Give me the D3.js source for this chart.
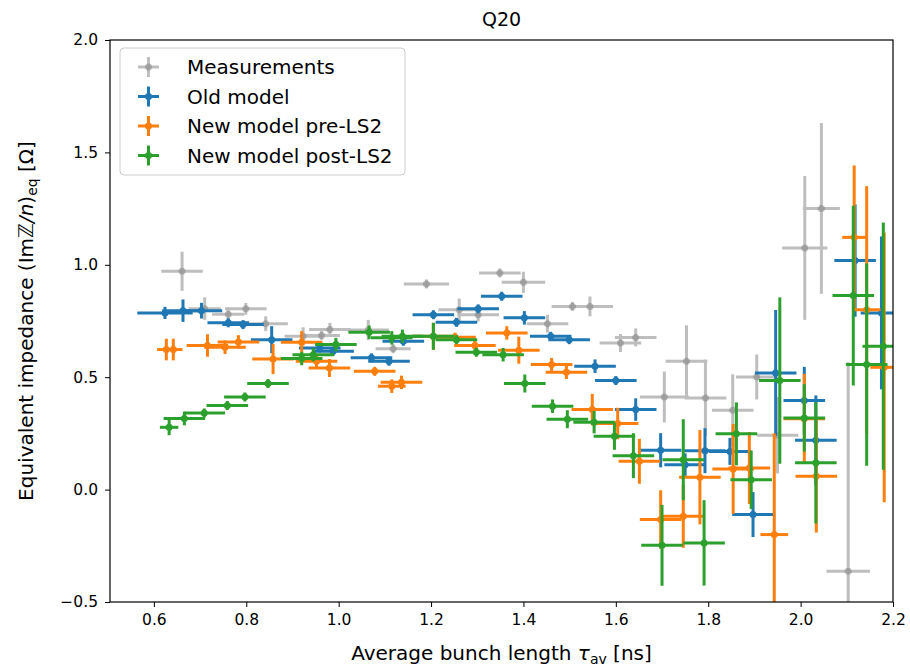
<!DOCTYPE html>
<html>
<head>
<meta charset="utf-8">
<script src="https://cdn.jsdelivr.net/npm/d3@7"></script>
<style>
  body { margin: 0; background: #fff; }
  text { font-family: "DejaVu Sans", sans-serif; }
</style>
</head>
<body>
<div id="chart-area"></div>
<script>
// values
const measX    = [0.661, 0.71, 0.761, 0.799, 0.842, 0.923, 0.963, 0.981, 1.064, 1.118, 1.19, 1.261, 1.302, 1.349, 1.40, 1.452, 1.506, 1.544, 1.61, 1.643, 1.705, 1.753, 1.794, 1.853, 1.905, 1.95, 2.009, 2.045, 2.103];
const measY    = [0.971, 0.805, 0.78, 0.804, 0.738, 0.682, 0.686, 0.712, 0.71, 0.627, 0.915, 0.80, 0.778, 0.964, 0.922, 0.738, 0.815, 0.815, 0.652, 0.677, 0.412, 0.571, 0.408, 0.353, 0.501, 0.242, 1.075, 1.251, -0.363];
const measXerr = [0.045, 0.035, 0.035, 0.045, 0.048, 0.04, 0.04, 0.045, 0.045, 0.038, 0.049, 0.045, 0.045, 0.045, 0.047, 0.045, 0.045, 0.05, 0.045, 0.045, 0.053, 0.045, 0.045, 0.045, 0.045, 0.045, 0.049, 0.04, 0.047];
const measYerr = [0.087, 0.05, 0.03, 0.026, 0.033, 0.04, 0.02, 0.03, 0.045, 0.02, 0.02, 0.05, 0.03, 0.02, 0.047, 0.04, 0.02, 0.044, 0.04, 0.04, 0.113, 0.16, 0.17, 0.16, 0.1, 0.17, 0.32, 0.38, 0.93];

const oldX    = [0.624, 0.663, 0.703, 0.761, 0.793, 0.855, 0.959, 0.988, 1.071, 1.109, 1.14, 1.205, 1.255, 1.302, 1.353, 1.402, 1.459, 1.499, 1.555, 1.60, 1.643, 1.697, 1.75, 1.793, 1.847, 1.897, 1.946, 2.008, 2.033, 2.118, 2.175];
const oldY    = [0.786, 0.796, 0.796, 0.742, 0.734, 0.667, 0.63, 0.615, 0.586, 0.571, 0.66, 0.778, 0.744, 0.804, 0.86, 0.764, 0.682, 0.667, 0.549, 0.485, 0.356, 0.175, 0.111, 0.173, 0.17, -0.111, 0.519, 0.396, 0.219, 1.019, 0.786];
const oldXerr = [0.06, 0.045, 0.045, 0.045, 0.045, 0.045, 0.045, 0.045, 0.045, 0.045, 0.045, 0.045, 0.045, 0.045, 0.045, 0.045, 0.045, 0.045, 0.045, 0.045, 0.045, 0.045, 0.045, 0.045, 0.045, 0.045, 0.045, 0.045, 0.045, 0.045, 0.045];
const oldYerr = [0.027, 0.05, 0.035, 0.02, 0.02, 0.06, 0.02, 0.02, 0.02, 0.02, 0.02, 0.02, 0.02, 0.02, 0.02, 0.03, 0.02, 0.02, 0.03, 0.02, 0.05, 0.076, 0.05, 0.1, 0.06, 0.1, 0.28, 0.15, 0.2, 0.25, 0.34];

const preX    = [0.627, 0.642, 0.716, 0.754, 0.783, 0.858, 0.92, 0.952, 0.98, 1.078, 1.115, 1.136, 1.205, 1.252, 1.295, 1.364, 1.39, 1.461, 1.493, 1.549, 1.604, 1.651, 1.697, 1.746, 1.782, 1.854, 1.889, 1.943, 2.008, 2.034, 2.116, 2.143, 2.181];
const preY    = [0.623, 0.623, 0.641, 0.633, 0.657, 0.581, 0.655, 0.571, 0.541, 0.526, 0.46, 0.477, 0.682, 0.678, 0.641, 0.697, 0.62, 0.556, 0.522, 0.356, 0.294, 0.126, -0.133, -0.119, 0.055, 0.092, 0.096, -0.2, 0.315, 0.059, 1.122, 0.80, 0.544];
const preXerr = [0.02, 0.02, 0.045, 0.045, 0.045, 0.045, 0.045, 0.045, 0.045, 0.045, 0.03, 0.045, 0.045, 0.045, 0.045, 0.045, 0.045, 0.045, 0.045, 0.045, 0.045, 0.045, 0.045, 0.045, 0.045, 0.045, 0.045, 0.03, 0.045, 0.045, 0.026, 0.03, 0.03];
const preYerr = [0.048, 0.048, 0.05, 0.03, 0.03, 0.067, 0.05, 0.03, 0.04, 0.02, 0.03, 0.03, 0.06, 0.02, 0.02, 0.03, 0.06, 0.03, 0.03, 0.07, 0.07, 0.1, 0.13, 0.14, 0.21, 0.2, 0.16, 0.45, 0.2, 0.25, 0.32, 0.55, 0.6];

const postX    = [0.633, 0.666, 0.709, 0.759, 0.797, 0.847, 0.92, 0.945, 0.994, 1.066, 1.115, 1.138, 1.205, 1.255, 1.298, 1.356, 1.403, 1.463, 1.495, 1.553, 1.597, 1.638, 1.70, 1.746, 1.791, 1.861, 1.893, 1.955, 2.008, 2.033, 2.114, 2.143, 2.179];
const postY    = [0.277, 0.316, 0.341, 0.374, 0.412, 0.472, 0.583, 0.60, 0.645, 0.70, 0.675, 0.682, 0.682, 0.667, 0.611, 0.60, 0.472, 0.371, 0.313, 0.30, 0.237, 0.151, -0.248, 0.133, -0.237, 0.248, 0.044, 0.485, 0.319, 0.119, 0.863, 0.556, 0.638];
const postXerr = [0.02, 0.045, 0.045, 0.045, 0.045, 0.045, 0.045, 0.045, 0.045, 0.045, 0.045, 0.045, 0.045, 0.045, 0.045, 0.045, 0.045, 0.045, 0.045, 0.045, 0.045, 0.045, 0.045, 0.045, 0.045, 0.045, 0.045, 0.045, 0.045, 0.045, 0.045, 0.045, 0.045];
const postYerr = [0.035, 0.03, 0.02, 0.02, 0.02, 0.02, 0.03, 0.03, 0.03, 0.03, 0.03, 0.03, 0.06, 0.02, 0.02, 0.03, 0.04, 0.03, 0.04, 0.05, 0.06, 0.1, 0.18, 0.18, 0.19, 0.14, 0.13, 0.37, 0.15, 0.27, 0.4, 0.45, 0.55];

const seriesNames  = ["Measurements", "Old model", "New model pre-LS2", "New model post-LS2"];
const seriesColors = ["#7f7f7f", "#1f77b4", "#ff7f0e", "#2ca02c"];
const xTicks = [0.6, 0.8, 1.0, 1.2, 1.4, 1.6, 1.8, 2.0, 2.2];
const yTicks = [-0.5, 0.0, 0.5, 1.0, 1.5, 2.0];

const series = [
    { x: measX, y: measY, xe: measXerr, ye: measYerr, alpha: 0.5 },
    { x: oldX, y: oldY, xe: oldXerr, ye: oldYerr, alpha: 1 },
    { x: preX, y: preY, xe: preXerr, ye: preYerr, alpha: 1 },
    { x: postX, y: postY, xe: postXerr, ye: postYerr, alpha: 1 }
];

const width = 910, height = 666;
const margin = { left: 110, right: 17, top: 40, bottom: 64 };

const svg = d3.select("#chart-area").append("svg")
    .attr("width", width)
    .attr("height", height);

const x = d3.scaleLinear()
    .domain([0.505, 2.2])
    .range([margin.left, width - margin.right]);

const y = d3.scaleLinear()
    .domain([-0.5, 2.0])
    .range([height - margin.bottom, margin.top]);

svg.append("defs").append("clipPath").attr("id", "clip")
    .append("rect")
    .attr("x", margin.left).attr("y", margin.top)
    .attr("width", width - margin.left - margin.right)
    .attr("height", height - margin.top - margin.bottom);
const plot = svg.append("g").attr("clip-path", "url(#clip)");

series.forEach((s, k) => {
    const col = seriesColors[k];
    const pts = s.x.map((v, i) => ({ x: v, y: s.y[i], xe: s.xe[i], ye: s.ye[i] }));
    const g = plot.append("g");

    // error bars first, markers on top
    const bars = g.append("g").attr("opacity", s.alpha);
    bars.selectAll(".xe").data(pts).enter().append("line")
        .attr("x1", (d) => x(d.x - d.xe))
        .attr("x2", (d) => x(d.x + d.xe))
        .attr("y1", (d) => y(d.y))
        .attr("y2", (d) => y(d.y))
        .attr("stroke", col)
        .attr("stroke-width", 3);
    bars.selectAll(".ye").data(pts).enter().append("line")
        .attr("x1", (d) => x(d.x))
        .attr("x2", (d) => x(d.x))
        .attr("y1", (d) => y(d.y - d.ye))
        .attr("y2", (d) => y(d.y + d.ye))
        .attr("stroke", col)
        .attr("stroke-width", 3);

    g.append("g").attr("opacity", s.alpha)
        .selectAll("circle").data(pts).enter().append("circle")
        .attr("cx", (d) => x(d.x))
        .attr("cy", (d) => y(d.y))
        .attr("r", 3.5)
        .attr("fill", col);
});

// axes
const xAxis = svg.append("g")
    .attr("transform", `translate(0,${height - margin.bottom})`)
    .call(d3.axisBottom(x).tickValues(xTicks).tickFormat(d3.format(".1f")).tickSizeOuter(0).tickSize(5).tickPadding(7));
const yAxis = svg.append("g")
    .attr("transform", `translate(${margin.left},0)`)
    .call(d3.axisLeft(y).tickValues(yTicks).tickFormat((d) => d3.format(".1f")(d).replace("-", "\u2212")).tickSizeOuter(0).tickSize(5).tickPadding(7));

[xAxis, yAxis].forEach((a) => {
    a.select(".domain").remove();
    a.selectAll("text").attr("font-size", 15.5).attr("fill", "#000").attr("font-family", "DejaVu Sans");
    a.selectAll("line").attr("stroke", "#000").attr("stroke-width", 1);
});

// frame
svg.append("rect")
    .attr("x", margin.left).attr("y", margin.top)
    .attr("width", width - margin.left - margin.right)
    .attr("height", height - margin.top - margin.bottom)
    .attr("fill", "none")
    .attr("stroke", "#000")
    .attr("stroke-width", 1.2);

// title
svg.append("text")
    .attr("x", (margin.left + width - margin.right) / 2)
    .attr("y", 26)
    .attr("text-anchor", "middle")
    .attr("font-size", 19)
    .text("Q20");

// x label
const xl = svg.append("text")
    .attr("x", (margin.left + width - margin.right) / 2)
    .attr("y", 660)
    .attr("text-anchor", "middle")
    .attr("font-size", 20);
xl.append("tspan").text("Average bunch length ");
xl.append("tspan").attr("font-style", "italic").text("\u03c4");
xl.append("tspan").attr("font-size", 14).attr("dy", 4).text("av");
xl.append("tspan").attr("dy", -4).text(" [ns]");

// y label
const yl = svg.append("text")
    .attr("transform", `translate(33,${(margin.top + height - margin.bottom) / 2}) rotate(-90)`)
    .attr("text-anchor", "middle")
    .attr("font-size", 20);
yl.append("tspan").text("Equivalent impedance (Im");
yl.append("tspan").attr("font-style", "italic").text("\u2124/n");
yl.append("tspan").text(")");
yl.append("tspan").attr("font-size", 14).attr("dy", 4).text("eq");
yl.append("tspan").attr("dy", -4).text(" [\u03a9]");

// legend
const lg = svg.append("g");
lg.append("rect")
    .attr("x", 120).attr("y", 48)
    .attr("width", 285).attr("height", 127)
    .attr("rx", 4)
    .attr("fill", "#fff").attr("fill-opacity", 0.8)
    .attr("stroke", "#ccc");
seriesNames.forEach((name, i) => {
    const cy = 67 + i * 29.5;
    const item = lg.append("g").attr("opacity", i === 0 ? 0.5 : 1);
    item.append("line").attr("x1", 138).attr("x2", 159).attr("y1", cy).attr("y2", cy)
        .attr("stroke", seriesColors[i]).attr("stroke-width", 3);
    item.append("line").attr("x1", 148.5).attr("x2", 148.5).attr("y1", cy - 10).attr("y2", cy + 10)
        .attr("stroke", seriesColors[i]).attr("stroke-width", 3);
    lg.append("circle").attr("cx", 148.5).attr("cy", cy).attr("r", 3.5)
        .attr("fill", seriesColors[i]).attr("opacity", i === 0 ? 0.5 : 1);
    lg.append("text")
        .attr("x", 187).attr("y", cy + 7)
        .attr("font-size", 20)
        .text(name);
});
</script>
</body>
</html>
